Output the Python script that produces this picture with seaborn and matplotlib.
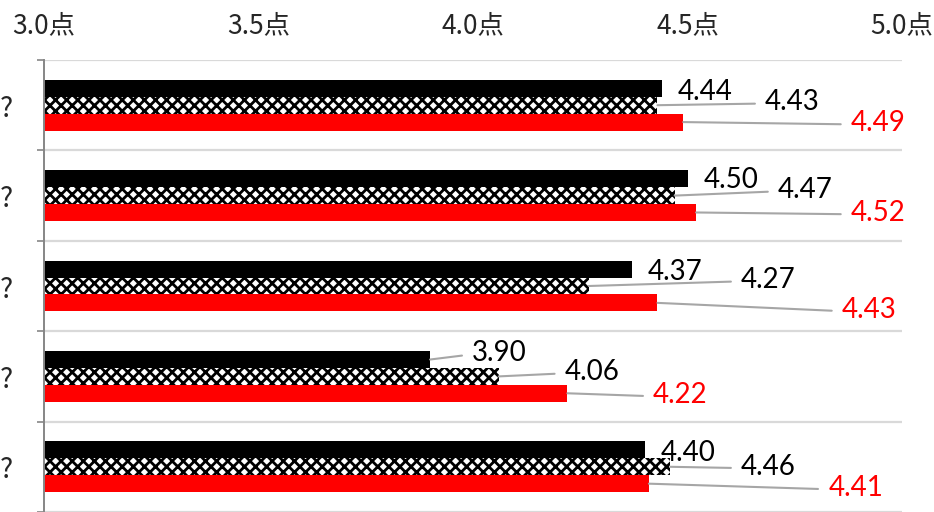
import matplotlib
matplotlib.use("Agg")
import matplotlib.pyplot as plt
import seaborn as sns
import pandas as pd
import numpy as np

# ---- data ----
categories = ["Q1", "Q2", "Q3", "Q4", "Q5"]
category_labels = ["?", "?", "?", "?", "?"]
series = ["系列1", "系列2", "系列3"]
values_s1 = [4.44, 4.50, 4.37, 3.90, 4.40]
values_s2 = [4.43, 4.47, 4.27, 4.06, 4.46]
values_s3 = [4.49, 4.52, 4.43, 4.22, 4.41]
xticks = [3.0, 3.5, 4.0, 4.5, 5.0]
xtick_labels = ["3.0点", "3.5点", "4.0点", "4.5点", "5.0点"]

# ---- label layout (data-label left edges in x units, vertical nudge in px) ----
label_x = [
    [4.478, 4.681, 4.881],
    [4.538, 4.711, 4.881],
    [4.408, 4.625, 4.860],
    [3.998, 4.214, 4.420],
    [4.438, 4.625, 4.828],
]
label_dy_px = [
    [3.7, -3.0, 1.0],
    [1.3, -5.6, 0.5],
    [3.0, -6.0, 7.0],
    [-6.5, -4.4, 1.7],
    [3.0, 0.0, 4.3],
]

colors = ["#000000", "#FFFFFF", "#FF0000"]
label_colors = ["#000000", "#000000", "#FF0000"]

df = pd.DataFrame({
    "category": categories * 3,
    "series": [series[0]] * 5 + [series[1]] * 5 + [series[2]] * 5,
    "value": values_s1 + values_s2 + values_s3,
})

sns.set_theme(style="white")
plt.rcParams["font.family"] = ["Noto Sans CJK JP", "DejaVu Sans"]
plt.rcParams["hatch.linewidth"] = 2.0

fig = plt.figure(figsize=(9.34, 5.12), dpi=100)
W, H = 934, 512
ax = fig.add_axes([44 / W, 0, (902 - 44) / W, 452 / H])

sns.barplot(data=df, y="category", x="value", hue="series", orient="h",
            palette=colors, width=0.56, gap=0, saturation=1, legend=False,
            linewidth=0, ax=ax)

# hatched middle series
for p in ax.containers[1]:
    p.set_hatch("xxx")
    p.set_edgecolor("#000000")
    p.set_facecolor("#FFFFFF")
    p.set_linewidth(0)

ax.set_xlim(3.0, 5.0)
ax.set_ylim(4.5, -0.5)
ax.set_xlabel("")
ax.set_ylabel("")

# x ticks on top
ax.set_xticks(xticks)
ax.set_xticklabels(xtick_labels, fontsize=19)
ax.tick_params(axis="x", which="both", top=True, labeltop=True, bottom=False,
               labelbottom=False, length=0, pad=15)

# y ticks: labels at centres, marks at boundaries
ax.set_yticks(range(len(categories)))
ax.set_yticklabels(category_labels, fontsize=20)
ax.tick_params(axis="y", which="major", length=0, pad=22)
ax.set_yticks(np.arange(-0.5, len(categories), 1.0), minor=True)
ax.tick_params(axis="y", which="minor", left=True, length=5, width=1.2,
               color="#868686")
ax.grid(False)
ax.grid(which="minor", axis="y", color="#d9d9d9", lw=1.6)
ax.set_axisbelow(True)

for s in ["top", "right", "bottom"]:
    ax.spines[s].set_visible(False)
ax.spines["left"].set_color("#868686")
ax.spines["left"].set_linewidth(1.4)

# pixels per y data unit
px_per_y = 452 / len(categories)

for j, cont in enumerate(ax.containers):
    for i, p in enumerate(cont.patches):
        val = p.get_width()
        yc = p.get_y() + p.get_height() / 2
        lx = label_x[i][j]
        ly = yc + label_dy_px[i][j] / px_per_y
        txt = f"{val:.2f}"
        if lx - val > 0.05:
            ax.annotate(txt, xy=(val, yc), xytext=(lx, ly),
                        textcoords="data", ha="left", va="center",
                        fontsize=20, family=["Lato", "DejaVu Sans"],
                        color=label_colors[j], annotation_clip=False,
                        arrowprops=dict(arrowstyle="-", color="#a6a6a6",
                                        lw=1.5, shrinkA=5, shrinkB=0,
                                        relpos=(0, 0.45)))
        else:
            ax.text(lx, ly, txt, ha="left", va="center", fontsize=20,
                    family=["Lato", "DejaVu Sans"], color=label_colors[j],
                    clip_on=False)

fig.savefig("out.png", dpi=100)
